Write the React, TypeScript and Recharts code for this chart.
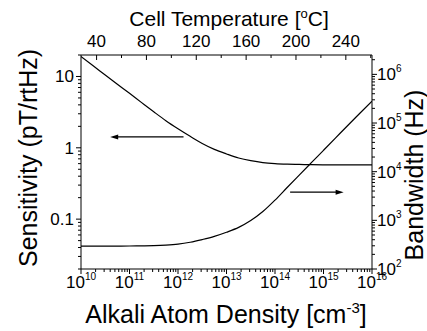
import { LineChart, Line, XAxis, YAxis, ReferenceLine } from 'recharts'

// alkali atom density [cm^-3], quarter-decade steps
const density = [
  1e10, 1.78e10, 3.16e10, 5.62e10, 1e11, 1.78e11, 3.16e11, 5.62e11, 1e12, 1.78e12, 3.16e12, 5.62e12, 1e13,
  1.78e13, 3.16e13, 5.62e13, 1e14, 1.78e14, 3.16e14, 5.62e14, 1e15, 1.78e15, 3.16e15, 5.62e15, 1e16,
]
// sensitivity (pT/rtHz), left axis
const sensitivity = [
  19, 14.1, 10.5, 7.8, 5.8, 4.3, 3.2, 2.4, 1.85, 1.45, 1.15, 0.95, 0.82, 0.72, 0.66, 0.62, 0.6, 0.59, 0.585,
  0.58, 0.578, 0.577, 0.576, 0.575, 0.575,
]
// bandwidth (Hz), right axis
const bandwidth = [
  295, 295, 295, 296, 297, 299, 302, 310, 325, 355, 403, 468, 569, 716, 989, 1514, 2600, 4730, 8510, 15300,
  27500, 49500, 89100, 158500, 282000,
]

const densityDecades = [1e10, 1e11, 1e12, 1e13, 1e14, 1e15, 1e16]
const sensitivityDecades = [0.01, 0.1, 1, 10]
const bandwidthDecades = [1e2, 1e3, 1e4, 1e5, 1e6]
const temperatureTicks = [40, 60, 80, 100, 120, 140, 160, 180, 200, 220, 240, 260]
const temperatureLabels = [40, 80, 120, 160, 200, 240]

// arrows pointing to the axis each curve belongs to
const leftArrow = { from: 1.3e12, to: 4e10, y: 1.42 }
const rightArrow = { from: 2.05e14, to: 2.6e15, y: 3800 }

const data = density.map((d, i) => ({ density: d, sensitivity: sensitivity[i], bandwidth: bandwidth[i] }))

const FONT = '"Liberation Sans", Arial, sans-serif'

const logTicks = (decades: number[], lo: number, hi: number) => {
  const out: number[] = []
  decades.forEach((d) => {
    for (let k = 1; k <= 9; k++) {
      const v = d * k
      if (v >= lo * 0.999 && v <= hi * 1.001) out.push(v)
    }
  })
  return out
}

const isDecade = (v: number) => Math.abs(Math.log10(v) - Math.round(Math.log10(v))) < 1e-6
const expOf = (v: number) => Math.round(Math.log10(v))

function BottomTick({ x, y, payload }: any) {
  const v = payload.value
  const major = isDecade(v)
  return (
    <g>
      <line x1={x} x2={x} y1={y} y2={y + (major ? 5 : 3)} stroke="#000" />
      {major && (
        <text x={x} y={y + 19} textAnchor="middle" fontSize={17} fontFamily={FONT} fill="#000">
          10<tspan dy={-8} fontSize={10}>{expOf(v)}</tspan>
        </text>
      )}
    </g>
  )
}

function TopTick({ x, y, payload }: any) {
  const v = payload.value
  const major = temperatureLabels.includes(v)
  return (
    <g>
      <line x1={x} x2={x} y1={y} y2={y + (major ? 5 : 3)} stroke="#000" />
      {major && (
        <text x={x} y={y - 8} textAnchor="middle" fontSize={17} fontFamily={FONT} fill="#000">
          {v}
        </text>
      )}
    </g>
  )
}

function LeftTick({ x, y, payload }: any) {
  const v = payload.value
  const major = isDecade(v)
  return (
    <g>
      <line x1={x - (major ? 5 : 3)} x2={x} y1={y} y2={y} stroke="#000" />
      {major && (
        <text x={x - 7} y={y + 6} textAnchor="end" fontSize={17} fontFamily={FONT} fill="#000">
          {v}
        </text>
      )}
    </g>
  )
}

function RightTick({ x, y, payload }: any) {
  const v = payload.value
  const major = isDecade(v)
  return (
    <g>
      <line x1={x} x2={x + (major ? 5 : 3)} y1={y} y2={y} stroke="#000" />
      {major && (
        <text x={x + 5} y={y + 6} textAnchor="start" fontSize={17} fontFamily={FONT} fill="#000">
          10<tspan dy={-8} fontSize={10}>{expOf(v)}</tspan>
        </text>
      )}
    </g>
  )
}

function Arrow(props: any) {
  const { x1, y1, x2, y2 } = props
  const dir = Math.sign(x2 - x1)
  return (
    <g>
      <line x1={x1} y1={y1} x2={x2 - dir * 5} y2={y2} stroke="#000" strokeWidth={1.2} />
      <polygon points={`${x2},${y2} ${x2 - dir * 8},${y2 - 2.5} ${x2 - dir * 8},${y2 + 2.5}`} fill="#000" />
    </g>
  )
}

export default function App() {
  return (
    <div style={{ position: 'absolute', left: 0, top: 0, fontFamily: FONT }}>
      <LineChart width={427} height={331} data={data} margin={{ top: 0, right: 0, bottom: 0, left: 0 }}>
        <XAxis
          dataKey="density"
          type="number"
          scale="log"
          domain={[1e10, 1e16]}
          allowDataOverflow
          ticks={logTicks(densityDecades, 1e10, 1e16)}
          interval={0}
          height={62}
          tickSize={0}
          tickMargin={0}
          tickLine={false}
          tick={<BottomTick />}
          axisLine={{ stroke: '#000' }}
          label={() => (
            <text x={226} y={323} textAnchor="middle" fontSize={25} fontFamily={FONT} fill="#000">
              Alkali Atom Density [cm<tspan dy={-10} fontSize={15}>-3</tspan>
              <tspan dy={10}>]</tspan>
            </text>
          )}
        />
        <XAxis
          xAxisId="top"
          orientation="top"
          dataKey="density"
          type="number"
          domain={[27.5, 261]}
          allowDataOverflow
          ticks={temperatureTicks}
          interval={0}
          height={55}
          tickSize={0}
          tickMargin={0}
          tickLine={false}
          tick={<TopTick />}
          axisLine={{ stroke: '#000' }}
          label={() => (
            <text x={229} y={26} textAnchor="middle" fontSize={21} fontFamily={FONT} fill="#000">
              Cell Temperature [<tspan dy={-8} fontSize={13}>o</tspan>
              <tspan dy={8}>C]</tspan>
            </text>
          )}
        />
        <YAxis
          yAxisId="left"
          scale="log"
          domain={[0.02, 20]}
          allowDataOverflow
          ticks={logTicks(sensitivityDecades, 0.02, 20)}
          interval={0}
          width={81}
          tickSize={0}
          tickMargin={0}
          tickLine={false}
          tick={<LeftTick />}
          axisLine={{ stroke: '#000' }}
          label={() => (
            <text
              x={37}
              y={158}
              transform="rotate(-90, 37, 158)"
              textAnchor="middle"
              fontSize={25}
              fontFamily={FONT}
              fill="#000"
            >
              Sensitivity (pT/rtHz)
            </text>
          )}
        />
        <YAxis
          yAxisId="right"
          orientation="right"
          scale="log"
          domain={[100, 2.5e6]}
          allowDataOverflow
          ticks={logTicks(bandwidthDecades, 100, 2.5e6)}
          interval={0}
          width={55}
          tickSize={0}
          tickMargin={0}
          tickLine={false}
          tick={<RightTick />}
          axisLine={{ stroke: '#000' }}
          label={() => (
            <text
              x={423}
              y={175}
              transform="rotate(-90, 423, 175)"
              textAnchor="middle"
              fontSize={25}
              fontFamily={FONT}
              fill="#000"
            >
              Bandwidth (Hz)
            </text>
          )}
        />
        {/* invisible series so the temperature axis gets a scale */}
        <Line
          xAxisId="top"
          yAxisId="left"
          dataKey="sensitivity"
          stroke="none"
          dot={false}
          activeDot={false}
          legendType="none"
          isAnimationActive={false}
        />
        <Line
          yAxisId="left"
          dataKey="sensitivity"
          type="monotone"
          stroke="#000"
          strokeWidth={1.2}
          dot={false}
          isAnimationActive={false}
        />
        <Line
          yAxisId="right"
          dataKey="bandwidth"
          type="monotone"
          stroke="#000"
          strokeWidth={1.2}
          dot={false}
          isAnimationActive={false}
        />
        <ReferenceLine
          yAxisId="left"
          segment={[
            { x: leftArrow.from, y: leftArrow.y },
            { x: leftArrow.to, y: leftArrow.y },
          ]}
          shape={<Arrow />}
        />
        <ReferenceLine
          yAxisId="right"
          segment={[
            { x: rightArrow.from, y: rightArrow.y },
            { x: rightArrow.to, y: rightArrow.y },
          ]}
          shape={<Arrow />}
        />
      </LineChart>
    </div>
  )
}
